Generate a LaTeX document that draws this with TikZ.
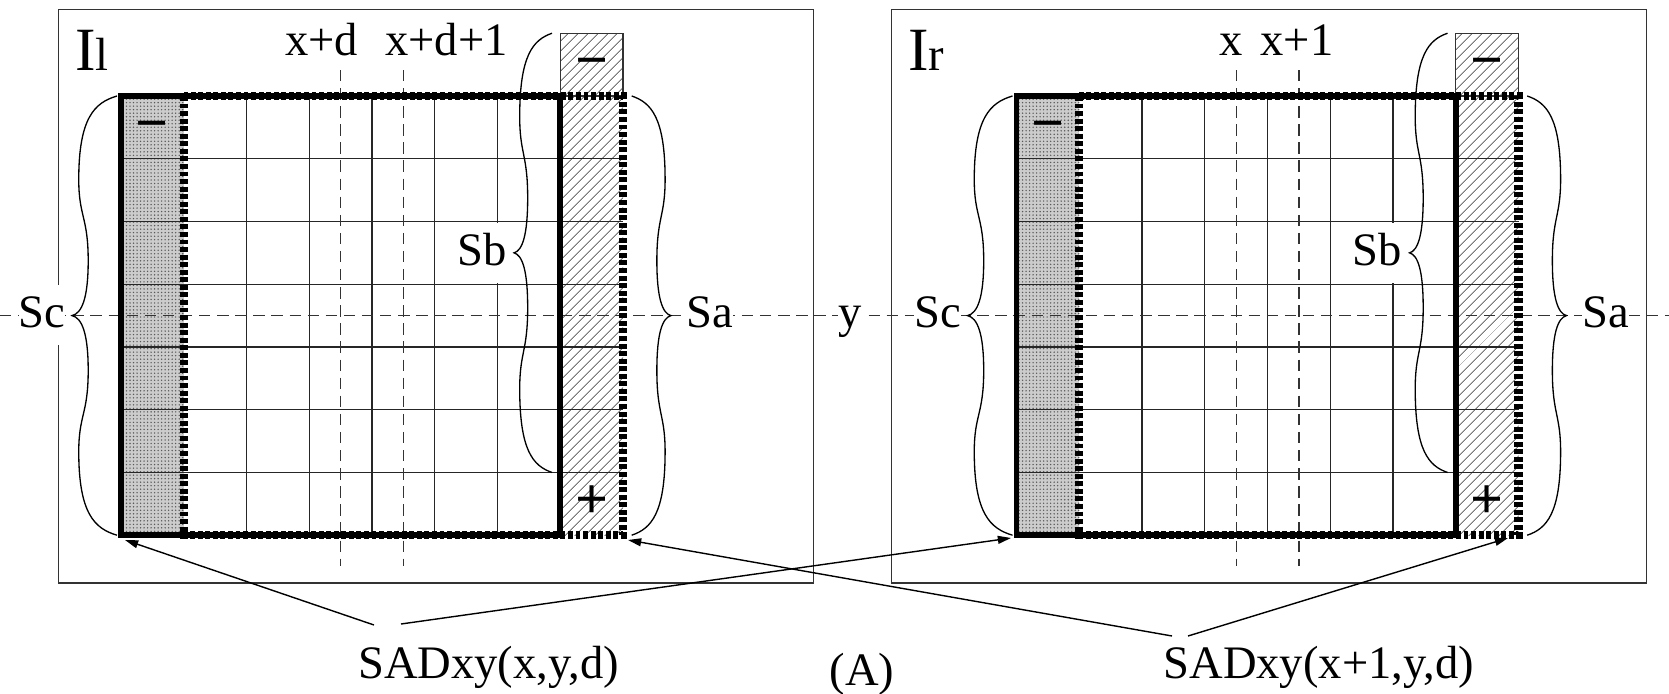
\documentclass[tikz,border=0pt]{standalone}
\usepackage{fontspec}
\setmainfont{Liberation Serif}
\usetikzlibrary{patterns.meta,arrows.meta}
\newcommand\labfont{\fontsize{26.5pt}{30pt}\selectfont}
\newcommand\signfont{\fontsize{33pt}{36pt}\selectfont\bfseries}
\newcommand\bigIfont{\fontsize{35pt}{40pt}\selectfont}
\newcommand\mybrace[4]{\draw[bracestyle,shift={(#1,#2)},xscale=#3,yscale=#4] (0,0) .. controls (0.5,0.03) and (0.85,0.1) .. (0.85,0.38) .. controls (0.85,0.55) and (0.64,0.55) .. (0.64,0.75) .. controls (0.64,0.92) and (0.78,0.99) .. (1,1) .. controls (0.78,1.01) and (0.64,1.08) .. (0.64,1.25) .. controls (0.64,1.45) and (0.85,1.45) .. (0.85,1.62) .. controls (0.85,1.9) and (0.5,1.97) .. (0,2);}
\newcommand\panelbody{%
 \fill[black!20] (121,96) rectangle (183.75,535.25);
 \fill[pattern={Dots[distance=2pt,radius=0.45pt]},pattern color=black!65] (121,96) rectangle (183.75,535.25);
 \fill[hatch] (560.25,33.25) rectangle (623,535.25);
 \draw[boxline] (560.25,33.25) rectangle (623,96);
 \foreach \i in {1,...,6} {\draw[gridline] (121,96+\i*62.75) -- (623,96+\i*62.75);}
 \foreach \i in {2,...,6} {\draw[gridline] (121+\i*62.75,96) -- (121+\i*62.75,535.25);}
 \draw[dashline] (340.6,70) -- (340.6,566);
 \draw[dashline] (403.4,70) -- (403.4,566);
}
\begin{document}
\begin{tikzpicture}[x=0.02cm,y=-0.02cm,
 boxline/.style={draw=black!80,line width=0.7pt},
 gridline/.style={draw=black!85,line width=0.75pt},
 thickrect/.style={draw=black,line width=3.2pt},
 dashrect/.style={draw=black,line width=4.8pt,dash pattern=on 2.8pt off 1.5pt},
 dashline/.style={draw=black!80,line width=0.7pt,dash pattern=on 6.5pt off 3.8pt},
 bracestyle/.style={draw=black,line width=0.75pt},
 lab/.style={font=\labfont,inner sep=0pt},
 wlab/.style={lab,fill=white,text height=24pt,text depth=10pt},
 sign/.style={font=\signfont,inner sep=0pt,anchor=base},
 arr/.style={draw=black,line width=0.8pt,-{Triangle[length=7.5pt,width=4.5pt]}},
 hatch/.style={pattern={Lines[angle=45,distance=4pt,line width=0.45pt]},pattern color=black!80}]
\useasboundingbox (0,0) rectangle (1669,693);
% outer frames
\draw[boxline] (58.5,9.6) rectangle (813.5,583);
\draw[boxline] (891.5,9.6) rectangle (1646.5,583);
% panel bodies
\panelbody
\begin{scope}[shift={(895.5,0)}]\panelbody\end{scope}
% horizontal y line
\draw[dashline] (0,315.6) -- (1669,315.6);
% thick window outlines and braces
\foreach \dx in {0,895.5} {
 \begin{scope}[shift={(\dx,0)}]
  \draw[thickrect] (121,96) rectangle (560.25,535.25);
  \draw[dashrect] (183.75,96) rectangle (623,535.25);
  \mybrace{117}{96}{-45}{219.6}
  \mybrace{631.7}{96}{39.3}{219.6}
  \mybrace{552}{33.25}{-38}{219.6}
 \end{scope}
}
% left panel labels
\node[lab,anchor=base west] (L-I) at (75,70.7) {{\bigIfont I}l};
\node[lab,anchor=base] (L-x1) at (321.5,55) {x+d};
\node[lab,anchor=base] (L-x2) at (446.5,55) {x+d+1};
\node[wlab,anchor=base] (L-Sc) at (42,327) {Sc};
\node[wlab,anchor=base] (L-Sa) at (710,327) {Sa};
\node[wlab,anchor=base] (L-Sb) at (482,265) {Sb};
\node[sign] (L-m1) at (152.4,142) {−};
\node[sign] (L-m2) at (591.6,79.3) {−};
\node[sign] (L-p) at (591.6,518.6) {+};
% right panel labels
\node[lab,anchor=base west] (R-I) at (908,70.7) {{\bigIfont I}r};
\node[lab,anchor=base] (R-x1) at (1231,55) {x};
\node[lab,anchor=base] (R-x2) at (1297,55) {x+1};
\node[wlab,anchor=base] (R-Sc) at (937.5,327) {Sc};
\node[wlab,anchor=base] (R-Sa) at (1605.5,327) {Sa};
\node[wlab,anchor=base] (R-Sb) at (1377.5,265) {Sb};
\node[sign] (R-m1) at (1047.9,142) {−};
\node[sign] (R-m2) at (1487.1,79.3) {−};
\node[sign] (R-p) at (1487.1,518.6) {+};
% y label
\node[wlab,anchor=base] (ylab) at (850,327) {y};
% bottom labels
\node[lab,anchor=base] (sadL) at (488.6,678) {SADxy(x,y,d)};
\node[lab,anchor=base] (capA) at (862,685) {(A)};
\node[lab,anchor=base] (sadR) at (1318.7,678) {SADxy(x+1,y,d)};
% arrow end points
\coordinate (aL1) at (374,625);
\coordinate (aL2) at (401,624);
\coordinate (aR1) at (1172,636);
\coordinate (aR2) at (1188,636);
\coordinate (tLbl) at (125,540);
\coordinate (tRbl) at (1011,538);
\coordinate (tLbr) at (628,540);
\coordinate (tRbr) at (1508,538);
\draw[arr] (aL1) -- (tLbl);
\draw[arr] (aL2) -- (tRbl);
\draw[arr] (aR1) -- (tLbr);
\draw[arr] (aR2) -- (tRbr);
\end{tikzpicture}
\end{document}
